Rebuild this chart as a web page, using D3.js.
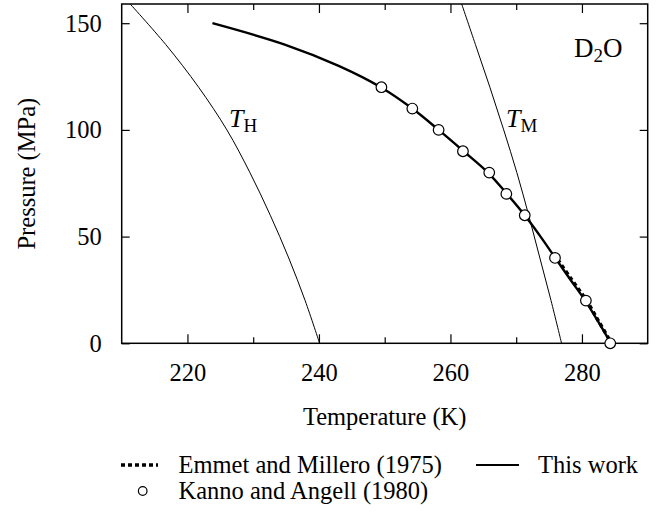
<!DOCTYPE html>
<html lang='en'>
<head>
  <meta charset='UTF-8'>
  <title>D2O TMD</title>
  <style>
    body { margin: 0; background: #fff; }
    svg text { font-family: 'Liberation Serif', 'DejaVu Serif', serif; fill: #000; }
  </style>
</head>
<body>
<div id='chart'></div>
<script src='https://d3js.org/d3.v7.min.js'></script>
<script>
  // data (T in K, P in MPa)
  var xTicks = [220, 240, 260, 280]
  var xMinor = [230, 250, 270]
  var yTicks = [0, 50, 100, 150]

  // homogeneous nucleation line T_H
  var thP = [0, 20, 40, 60, 80, 100, 120, 140, 160]
  var thT = [240.1, 237.9, 235.4, 232.6, 229.5, 226.0, 221.7, 216.7, 211.0]

  // melting line T_M
  var tmP = [0, 20, 40, 60, 80, 100, 120, 140, 160]
  var tmT = [276.9, 275.3, 273.6, 271.9, 270.1, 268.1, 266.0, 263.8, 261.6]

  // this work (thick solid)
  var workP = [150, 140, 130, 120, 110, 100, 90, 80, 70, 60, 50, 40, 30, 20, 10, 0]
  var workT = [223.8, 234.8, 243.0, 249.4, 254.2, 258.2, 262.0, 265.7, 268.6, 271.3, 273.7, 275.95, 278.2, 280.5, 282.5, 284.4]

  // Emmet and Millero (1975), dashed
  var emP = [42, 30, 20, 10, 0]
  var emT = [275.7, 278.4, 280.7, 282.6, 284.5]

  // Kanno and Angell (1980), open circles
  var kaP = [120, 110, 100, 90, 80, 70, 60, 40, 20, 0]
  var kaT = [249.5, 254.2, 258.2, 261.9, 265.9, 268.5, 271.3, 275.9, 280.6, 284.3]

  var W = 665, H = 512
  var pL = 121.7, pR = 647.7, pT = 4, pB = 343.3
  var fs = 24.5

  var svg = d3.select('#chart').append('svg')
    .attr('width', W).attr('height', H)

  var x = d3.scaleLinear().domain([210, 290]).range([pL, pR])
  var y = d3.scaleLinear().domain([0, 159]).range([pB, pT])

  svg.append('defs').append('clipPath').attr('id', 'plotClip')
    .append('rect').attr('x', pL).attr('y', pT)
    .attr('width', pR - pL).attr('height', pB - pT)

  // axes: ticks point inward on every side
  function styleAxis(g) {
    g.select('.domain').remove()
    g.selectAll('line').attr('stroke', '#000').attr('stroke-width', 1.2)
    g.selectAll('text').style('font-size', fs + 'px').attr('fill', '#000')
      .attr('font-family', 'Liberation Serif, serif')
  }
  svg.append('g').attr('transform', 'translate(0,' + pB + ')')
    .call(d3.axisBottom(x).tickValues(xTicks).tickSize(-9).tickPadding(20).tickFormat(d3.format('d')))
    .call(styleAxis)
  svg.append('g').attr('transform', 'translate(0,' + pB + ')')
    .call(d3.axisBottom(x).tickValues(xMinor).tickSize(-6).tickFormat(''))
    .call(styleAxis)
  svg.append('g').attr('transform', 'translate(0,' + pT + ')')
    .call(d3.axisTop(x).tickValues(xTicks).tickSize(-9).tickFormat(''))
    .call(styleAxis)
  svg.append('g').attr('transform', 'translate(0,' + pT + ')')
    .call(d3.axisTop(x).tickValues(xMinor).tickSize(-6).tickFormat(''))
    .call(styleAxis)
  svg.append('g').attr('transform', 'translate(' + pL + ',0)')
    .call(d3.axisLeft(y).tickValues(yTicks).tickSize(-8).tickPadding(20).tickFormat(d3.format('d')))
    .call(styleAxis)
  svg.append('g').attr('transform', 'translate(' + pR + ',0)')
    .call(d3.axisRight(y).tickValues(yTicks).tickSize(-8).tickFormat(''))
    .call(styleAxis)

  // frame
  svg.append('rect').attr('x', pL).attr('y', pT)
    .attr('width', pR - pL).attr('height', pB - pT)
    .attr('fill', 'none').attr('stroke', '#000').attr('stroke-width', 1.5)

  // axis titles
  svg.append('text').attr('x', (pL + pR) / 2).attr('y', 425)
    .attr('text-anchor', 'middle').style('font-size', fs + 'px').text('Temperature (K)')
  svg.append('text').attr('transform', 'translate(35,' + (pT + pB) / 2 + ') rotate(-90)')
    .attr('text-anchor', 'middle').style('font-size', fs + 'px').text('Pressure (MPa)')

  var line = d3.line().x(function (d) { return x(d[0]) }).y(function (d) { return y(d[1]) })
    .curve(d3.curveCatmullRom.alpha(0.5))
  var zip = function (t, p) { return t.map(function (v, i) { return [v, p[i]] }) }

  var plot = svg.append('g').attr('clip-path', 'url(#plotClip)')

  plot.append('path').datum(zip(thT, thP)).attr('d', line)
    .attr('fill', 'none').attr('stroke', '#000').attr('stroke-width', 1)
  plot.append('path').datum(zip(tmT, tmP)).attr('d', line)
    .attr('fill', 'none').attr('stroke', '#000').attr('stroke-width', 1)
  plot.append('path').datum(zip(emT, emP)).attr('d', line)
    .attr('fill', 'none').attr('stroke', '#000').attr('stroke-width', 3.5)
    .attr('stroke-dasharray', '4,3')
  plot.append('path').datum(zip(workT, workP)).attr('d', line)
    .attr('fill', 'none').attr('stroke', '#000').attr('stroke-width', 2.4)

  svg.append('g').selectAll('circle').data(zip(kaT, kaP)).enter().append('circle')
    .attr('cx', function (d) { return x(d[0]) }).attr('cy', function (d) { return y(d[1]) })
    .attr('r', 5.3).attr('fill', '#fff').attr('stroke', '#000').attr('stroke-width', 1.2)

  // curve labels
  function subLabel(tx, ty, main, sub, italic) {
    var t = svg.append('text').attr('x', tx).attr('y', ty).style('font-size', '26px')
    t.append('tspan').text(main).style('font-style', italic ? 'italic' : 'normal')
    t.append('tspan').text(sub).style('font-size', '19px').attr('dy', 5)
    return t
  }
  subLabel(229, 126.5, 'T', 'H', true)
  subLabel(506, 126.5, 'T', 'M', true)

  var d2o = svg.append('text').attr('x', 574).attr('y', 57).style('font-size', '27px')
  d2o.append('tspan').text('D')
  d2o.append('tspan').text('2').style('font-size', '19px').attr('dy', 5)
  d2o.append('tspan').text('O').attr('dy', -5)

  // legend
  var lg = svg.append('g')
  lg.append('line').attr('x1', 121).attr('x2', 158).attr('y1', 465).attr('y2', 465)
    .attr('stroke', '#000').attr('stroke-width', 3.5).attr('stroke-dasharray', '4,3')
  lg.append('text').attr('x', 178.5).attr('y', 473).style('font-size', fs + 'px').text('Emmet and Millero (1975)')
  lg.append('line').attr('x1', 476).attr('x2', 519).attr('y1', 465).attr('y2', 465)
    .attr('stroke', '#000').attr('stroke-width', 2)
  lg.append('text').attr('x', 538).attr('y', 473).style('font-size', fs + 'px').text('This work')
  lg.append('circle').attr('cx', 142.7).attr('cy', 491).attr('r', 4.3)
    .attr('fill', '#fff').attr('stroke', '#000').attr('stroke-width', 1.2)
  lg.append('text').attr('x', 178.5).attr('y', 499).style('font-size', fs + 'px').text('Kanno and Angell (1980)')
</script>
</body>
</html>
